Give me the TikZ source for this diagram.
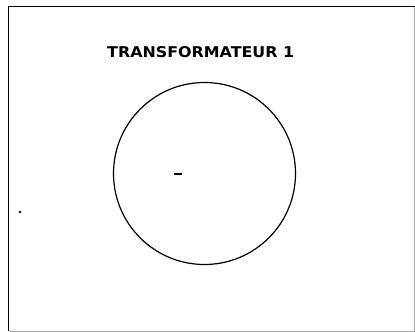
\documentclass[tikz,border=0pt]{standalone}
\usepackage{fontspec}
\newfontfamily\plotfont{DejaVu Sans}
\begin{document}
\begin{tikzpicture}[x=1pt,y=-1pt,
  frameline/.style={line width=1.4pt,black},
  frameedge/.style={line width=0.6pt,black!35},
  ring/.style={line width=1.2pt,black},
  tick/.style={line width=1.6pt,black},
  titletext/.style={inner sep=0pt,anchor=south west,font=\plotfont\bfseries}]
\useasboundingbox (0,0) rectangle (415,332);
\coordinate (tl) at (8.5,6.5);
\coordinate (tr) at (414.5,6.5);
\coordinate (bl) at (8.5,331);
\coordinate (br) at (414.5,331);
\draw[frameline] (bl) -- (tl) -- (tr);
\draw[frameedge] (tr) -- (br) -- (bl);
\node[titletext] (title) at (107,58) {\resizebox{187pt}{11pt}{TRANSFORMATEUR 1}};
\node[draw,ring,circle,minimum size=182pt,inner sep=0pt] (circ) at (204.5,173.5) {};
\coordinate (d1) at (173.5,174);
\coordinate (d2) at (182,174);
\draw[tick] (d1) -- (d2);
\fill (20,212) circle (1.3pt);
\end{tikzpicture}
\end{document}
